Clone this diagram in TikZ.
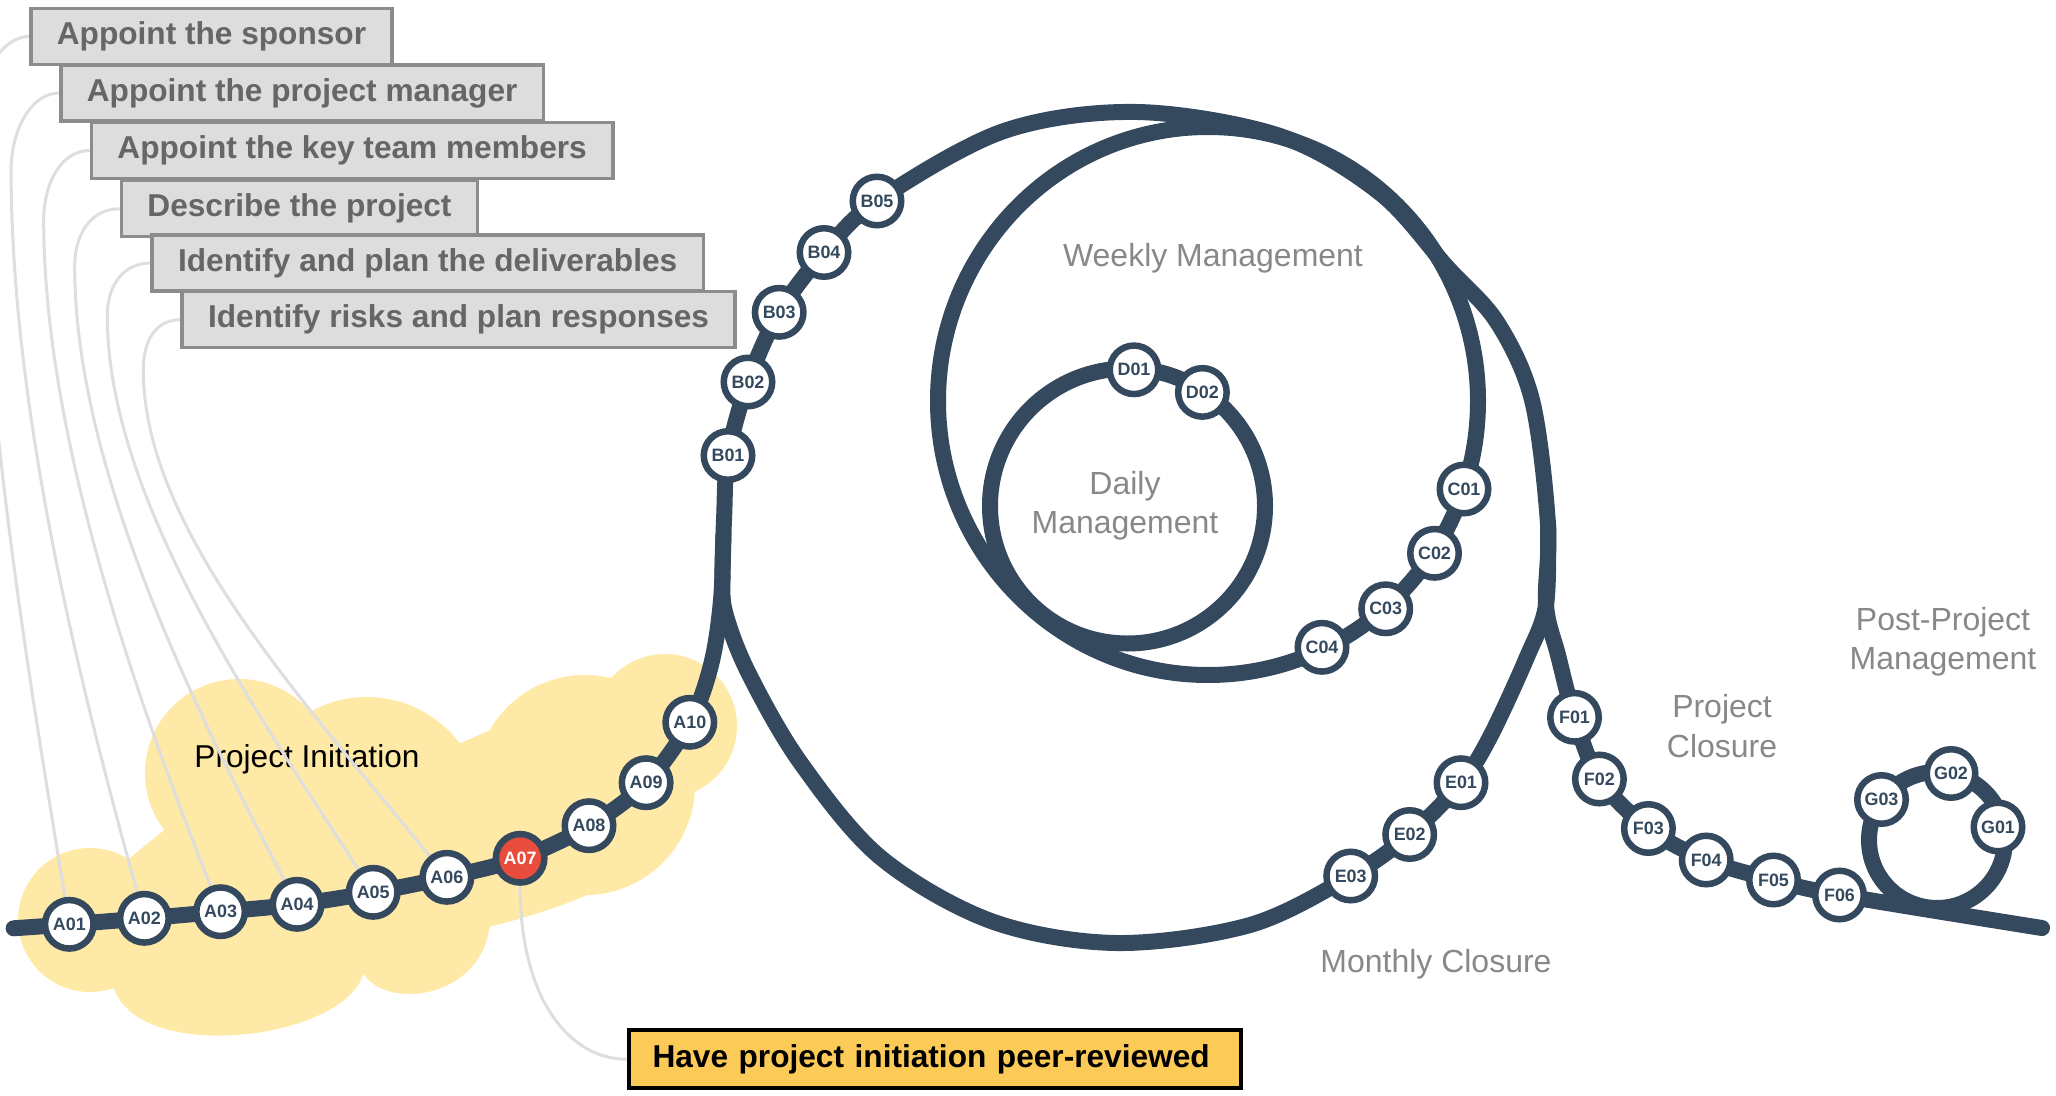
\documentclass[tikz,border=0pt]{standalone}
\usepackage{fontspec}
\setmainfont{Liberation Sans}
\usetikzlibrary{backgrounds, calc}
\definecolor{trackNavy}{RGB}{52, 73, 94}
\definecolor{alertRed}{RGB}{231, 76, 60}
\definecolor{cloudYellow}{RGB}{255, 233, 166}
\definecolor{boxGray}{RGB}{221, 221, 221}
\definecolor{borderGray}{RGB}{140, 140, 140}
\definecolor{textGray}{RGB}{102, 102, 102}
\definecolor{leaderGray}{RGB}{222, 222, 222}
\definecolor{labelGray}{RGB}{136, 136, 136}
\definecolor{reviewAmber}{RGB}{252, 202, 86}

\begin{document}
\begin{tikzpicture}[
    x=0.1mm, y=-0.1mm,
    station/.style={circle, draw=trackNavy, line width=0.65mm, fill=white, minimum size=4.85mm, inner sep=0pt, font=\bfseries\fontsize{5.1}{6}\selectfont, text=trackNavy},
    hotstation/.style={station, fill=alertRed, text=white},
    task/.style={rectangle, draw=borderGray, line width=0.35mm, fill=boxGray, anchor=north west, inner xsep=2.6mm, minimum height=5.6mm, font=\bfseries\fontsize{9}{11}\selectfont, text=textGray},
    review/.style={rectangle, draw=black, line width=0.4mm, fill=reviewAmber, anchor=west, inner xsep=2.4mm, text width=56.4mm, align=left, minimum height=5.8mm, font=\bfseries\fontsize{9}{11}\selectfont},
    track/.style={draw=trackNavy, line width=1.6mm, line cap=round},
    leader/.style={draw=leaderGray, line width=0.3mm},
    phase/.style={font=\fontsize{9.1}{11.2}\selectfont, text=labelGray, align=center}
]
    \useasboundingbox (0,0) rectangle (2056,1096);

    % Task boxes
    \node[task] (t1) at (29.1,6.7) {Appoint the sponsor};
    \node[task] (t2) at (59.1,63.3) {Appoint the project manager};
    \node[task] (t3) at (89.7,120.7) {Appoint the key team members};
    \node[task] (t4) at (119.7,179) {Describe the project};
    \node[task] (t5) at (150.3,233.3) {Identify and plan the deliverables};
    \node[task] (t6) at (180.3,290) {Identify risks and plan responses};
    \node[review] (peer) at (626.5,1059.2) {Have project initiation peer-reviewed};

    % Stations
    \node[station] (a01) at (69.3,924.3) {A01};
    \node[station] (a02) at (144.4,918.3) {A02};
    \node[station] (a03) at (220.6,911.7) {A03};
    \node[station] (a04) at (297.1,904.3) {A04};
    \node[station] (a05) at (373.2,892.3) {A05};
    \node[station] (a06) at (446.9,877.3) {A06};
    \node[hotstation] (a07) at (520.1,858.3) {A07};
    \node[station] (a08) at (589,825.7) {A08};
    \node[station] (a09) at (646.1,782.7) {A09};
    \node[station] (a10) at (689.8,722.3) {A10};
    \node[station] (b01) at (728,455.5) {B01};
    \node[station] (b02) at (748,382) {B02};
    \node[station] (b03) at (779.2,312.3) {B03};
    \node[station] (b04) at (824,252.5) {B04};
    \node[station] (b05) at (877,201) {B05};
    \node[station] (c01) at (1464,489) {C01};
    \node[station] (c02) at (1434.5,553.3) {C02};
    \node[station] (c03) at (1385.7,608.8) {C03};
    \node[station] (c04) at (1322,647.3) {C04};
    \node[station] (d01) at (1134,369.8) {D01};
    \node[station] (d02) at (1202.4,392.4) {D02};
    \node[station] (e01) at (1461,782.7) {E01};
    \node[station] (e02) at (1409.7,834.5) {E02};
    \node[station] (e03) at (1350.7,876) {E03};
    \node[station] (f01) at (1574.5,717.3) {F01};
    \node[station] (f02) at (1599.4,779) {F02};
    \node[station] (f03) at (1648.4,828.5) {F03};
    \node[station] (f04) at (1706.2,860) {F04};
    \node[station] (f05) at (1773.5,880) {F05};
    \node[station] (f06) at (1839.5,895) {F06};
    \node[station] (g01) at (1998,827) {G01};
    \node[station] (g02) at (1951,773.5) {G02};
    \node[station] (g03) at (1881.5,799.5) {G03};

    % Phase labels
    \node[phase] (weeklyLbl) at (1213,258) {Weekly Management};
    \node[phase] (dailyLbl) at (1125,506) {Daily\\Management};
    \node[phase] (monthlyLbl) at (1436,964) {Monthly Closure};
    \node[phase] (closureLbl) at (1722,726) {Project\\Closure};
    \node[phase] (postLbl) at (1943,642) {Post-Project\\Management};

    \coordinate (trackStart) at (13.6,928.3);
    \coordinate (trackEnd) at (2042,928);
    \coordinate (weekly) at (1208,401);
    \coordinate (daily) at (1127.5,506);
    \coordinate (post) at (1937,840);

    \begin{scope}[on background layer]
        % Initiation cloud
        \fill[cloudYellow] (90,920) circle[radius=72];
        \fill[cloudYellow] (239,773) circle[radius=94];
        \fill[cloudYellow] (367,813) circle[radius=116];
        \fill[cloudYellow] (585,785) circle[radius=110];
        \fill[cloudYellow] (665,726) circle[radius=72];
        \fill[cloudYellow] (128.5,859) -- (310,712) -- (460.5,743) -- (613,677) -- (688,793)
            .. controls (690,870) and (550,912) .. (489.6,926.7)
            .. controls (480,1000) and (385,1010) .. (363.5,973.3)
            .. controls (345,1040) and (140,1065) .. (114,988.3) -- cycle;
        \node[font=\fontsize{9}{11}\selectfont] (initLbl) at (307,759) {Project Initiation};

        % Leaders
        \draw[leader] (t1.west) .. controls +(-28,0) and +(0,-40) .. ++(-50,80) .. controls +(0,280) and ($(a01)+(-34,-211)$) .. (a01);
        \draw[leader] (t2.west) .. controls +(-28,0) and +(0,-40) .. ++(-48,77) .. controls +(0,250) and ($(a02)+(-58,-210)$) .. (a02);
        \draw[leader] (t3.west) .. controls +(-28,0) and +(0,-38) .. ++(-46,70) .. controls +(0,220) and ($(a03)+(-80,-203)$) .. (a03);
        \draw[leader] (t4.west) .. controls +(-28,0) and +(0,-34) .. ++(-45,58) .. controls +(0,200) and ($(a04)+(-103,-196)$) .. (a04);
        \draw[leader] (t5.west) .. controls +(-26,0) and +(0,-32) .. ++(-43,53) .. controls +(0,180) and ($(a05)+(-120,-185)$) .. (a05);
        \draw[leader] (t6.west) .. controls +(-24,0) and +(0,-30) .. ++(-37,50) .. controls +(0,160) and ($(a06)+(-142,-175)$) .. (a06);
        \draw[leader] (a07.south) .. controls +(0,115) and +(-56,0) .. (peer.west);

        % Track
        \draw[track] plot[smooth, tension=0.55] coordinates {(trackStart) (a01) (a02) (a03) (a04) (a05) (a06) (a07) (a08) (a09) (a10) (711,665) (721,600) (724,520) (b01) (b02) (b03) (b04) (b05) (1004,131) (1137,112) (1280,136) (1380,193) (1447,267) (1497,322) (1532,400) (1548,524) (1546,605) (1558,655) (f01) (f02) (f03) (f04) (f05) (f06) (trackEnd)};
        \draw[track] plot[smooth, tension=0.55] coordinates {(1548,524) (1546,605) (1527,657) (1490,737) (e01) (e02) (e03) (1250,925) (1116,943) (991,921) (880,857) (800,762) (748,672) (725,612) (722.5,575) (723.5,535)};
        \draw[track] (weekly) ellipse[x radius=270, y radius=274];
        \draw[track] (daily) circle[radius=137.5];
        \draw[track] (post) circle[radius=68];
    \end{scope}
\end{tikzpicture}
\end{document}
